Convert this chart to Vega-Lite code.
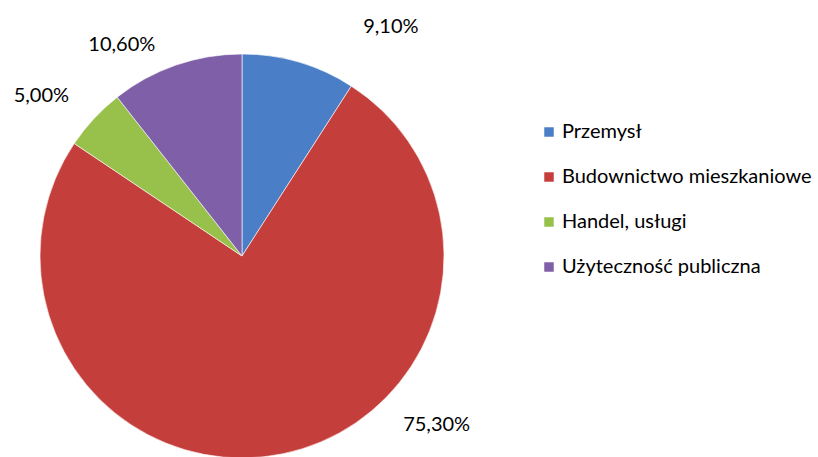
{
  "$schema": "https://vega.github.io/schema/vega-lite/v6.json",
  "width": 484,
  "height": 410,
  "autosize": {"type": "none"},
  "padding": {"left": 0, "top": 51, "right": 334, "bottom": 0},
  "background": "white",
  "config": {"view": {"stroke": null}, "font": "Lato"},
  "data": {
    "values": [
      {"idx": 1, "cat": "Przemysł", "value": 9.1, "label": "9,10%"},
      {"idx": 2, "cat": "Budownictwo mieszkaniowe", "value": 75.3, "label": "75,30%"},
      {"idx": 3, "cat": "Handel, usługi", "value": 5.0, "label": "5,00%"},
      {"idx": 4, "cat": "Użyteczność publiczna", "value": 10.6, "label": "10,60%"}
    ]
  },
  "encoding": {
    "theta": {"field": "value", "type": "quantitative", "stack": true},
    "order": {"field": "idx", "type": "quantitative"}
  },
  "layer": [
    {
      "mark": {"type": "arc", "radius": 202, "stroke": "#ffffff", "strokeOpacity": 0.6, "strokeWidth": 1},
      "encoding": {
        "color": {
          "field": "cat",
          "type": "nominal",
          "sort": ["Przemysł", "Budownictwo mieszkaniowe", "Handel, usługi", "Użyteczność publiczna"],
          "scale": {
            "domain": ["Przemysł", "Budownictwo mieszkaniowe", "Handel, usługi", "Użyteczność publiczna"],
            "range": ["#4A7FC8", "#C43F3C", "#98C14B", "#7F5FA7"]
          },
          "legend": {
            "title": null,
            "orient": "none",
            "legendX": 539,
            "legendY": 71,
            "symbolType": "square",
            "symbolSize": 90,
            "symbolStrokeWidth": 0,
            "labelFont": "Lato",
            "labelFontSize": 20,
            "labelColor": "#000000",
            "labelOffset": 3,
            "labelLimit": 400,
            "rowPadding": 25
          }
        }
      }
    },
    {
      "mark": {"type": "text", "radius": 230, "dx": 84, "dy": -8, "fontSize": 20, "font": "Lato", "color": "#000000"},
      "encoding": {"text": {"condition": {"test": "datum.idx == 1", "field": "label"}, "value": ""}}
    },
    {
      "mark": {"type": "text", "radius": 230, "dx": 148, "dy": -56, "fontSize": 20, "font": "Lato", "color": "#000000"},
      "encoding": {"text": {"condition": {"test": "datum.idx == 2", "field": "label"}, "value": ""}}
    },
    {
      "mark": {"type": "text", "radius": 230, "dx": -32, "dy": -4, "fontSize": 20, "font": "Lato", "color": "#000000"},
      "encoding": {"text": {"condition": {"test": "datum.idx == 3", "field": "label"}, "value": ""}}
    },
    {
      "mark": {"type": "text", "radius": 230, "dx": -45, "dy": 6, "fontSize": 20, "font": "Lato", "color": "#000000"},
      "encoding": {"text": {"condition": {"test": "datum.idx == 4", "field": "label"}, "value": ""}}
    }
  ]
}
